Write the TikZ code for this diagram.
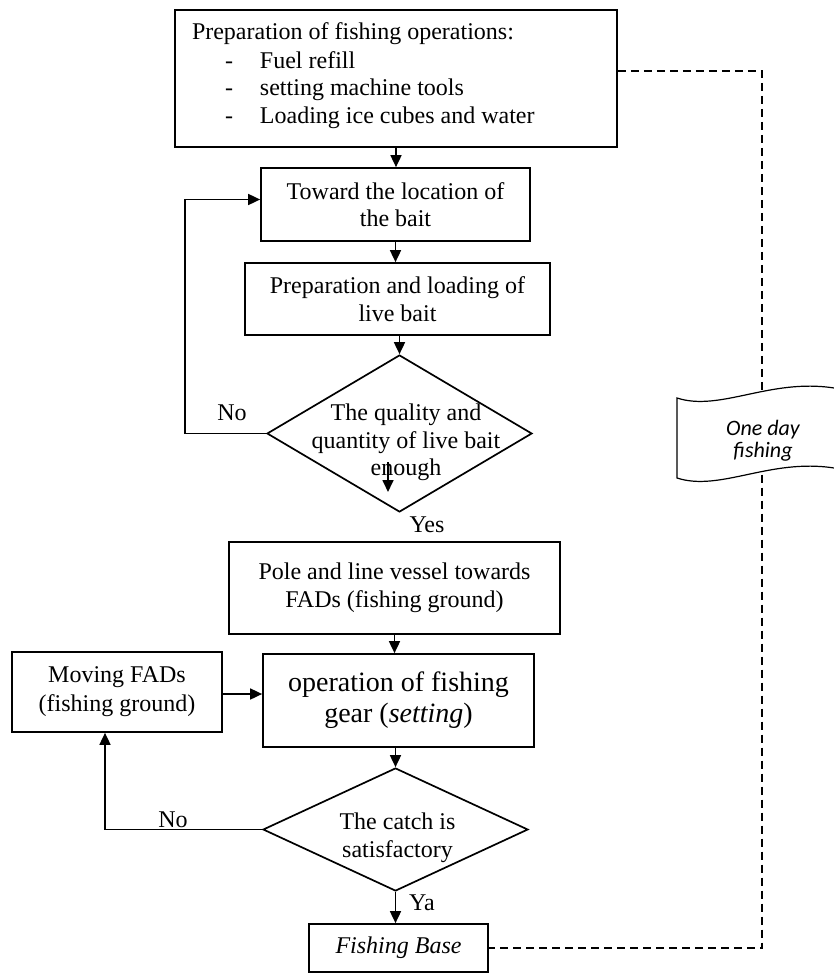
\documentclass[tikz,border=0pt]{standalone}
\usepackage{fontspec}
\setmainfont{Liberation Serif}
\newfontfamily\bannerfont{Carlito}
\usetikzlibrary{arrows.meta,calc,positioning,shapes.geometric}

\newcommand{\prepitem}[1]{\makebox[34pt][l]{\hspace*{16.5pt}-}#1}

\begin{document}
\begin{tikzpicture}[x=0.5pt, y=-0.5pt, >={Triangle[length=6pt, width=5.5pt]}, line width=0.85pt,
    font=\fontsize{12}{13.8}\selectfont]

\tikzset{
    blok/.style={draw, rectangle, align=center, inner sep=0pt},
    tanya/.style={draw, diamond, inner sep=0pt},
    putus/.style={line width=0.75pt, dash pattern=on 4pt off 2.5pt}
}

\useasboundingbox (0,0) rectangle (834,974);
\fill[white] (0,0) rectangle (834,974);

% KOTAK ALUR UTAMA
\node[blok, inner xsep=8.5pt, inner ysep=5.2pt] (prep) at (396,78.5)
    {\parbox[c][58.1pt][t]{204pt}{\fontsize{12}{14}\selectfont\raggedright\strut Preparation of fishing operations:\\
     \prepitem{Fuel refill}\\
     \prepitem{setting machine tools}\\
     \prepitem{Loading ice cubes and water}}};
\node[blok, minimum width=134.5pt, minimum height=36.5pt] (toward) at (395.5,204.5)
    {Toward the location of\\the bait};
\node[blok, minimum width=152.5pt, minimum height=36pt] (loadbait) at (397.5,299)
    {Preparation and loading of\\live bait};
\node[tanya, minimum width=132.5pt, minimum height=78.5pt,
    label={[align=center, xshift=3.25pt, yshift=-4.5pt]center:The quality and\\quantity of live bait\\enough}]
    (quality) at (399.5,433.5) {};
\node[blok, minimum width=165.5pt, minimum height=46pt] (vessel) at (394.5,588)
    {Pole and line vessel towards\\FADs (fishing ground)};
\node[blok, minimum width=135.5pt, minimum height=46.5pt, font=\fontsize{14}{15.5}\selectfont] (operation) at (398.5,700.5)
    {operation of fishing\\gear (\textit{setting})};
\node[blok, minimum width=105pt, minimum height=40pt, font=\fontsize{12}{14.5}\selectfont] (moving) at (117,692)
    {Moving FADs\\(fishing ground)};
\node[tanya, minimum width=132.5pt, minimum height=61.5pt,
    label={[align=center, xshift=1pt, yshift=-4pt]center:The catch is\\satisfactory}]
    (catch) at (395.5,829.5) {};
\node[blok, minimum width=89.5pt, minimum height=24pt, font=\fontsize{12}{13.8}\itshape] (base) at (398.5,948)
    {Fishing Base};

% Label
\node (no1) at (232,413) {No};
\node (yes) at (427,525) {Yes};
\node (no2) at (173,820) {No};
\node (ya) at (422,903) {Ya};

% Panah
\draw[->] (prep.south) -- (prep.south |- toward.north);
\draw[->] (toward.south) -- (toward.south |- loadbait.north);
\draw[->] (loadbait.south -| quality.north) -- (quality.north);
\draw[->] (vessel.south) -- (vessel.south |- operation.north);
\draw[->] (moving.east |- 0,694) -- (operation.west |- 0,694);
\draw[->] (operation.south -| catch.north) -- (catch.north);
\draw[->] (catch.south) -- (catch.south |- base.north);

% panah di dalam belah ketupat
\coordinate (yesA) at (388,462);
\coordinate (yesB) at (388,492);
\draw[->] (yesA) -- (yesB);

% Loop "No"
\coordinate (loopA) at (185,433.5);
\draw[->] (quality.west) -- (loopA) |- ([yshift=2.5pt]toward.west);
\coordinate (loopB) at (105,829.5);
\draw[->] (catch.west) -- (loopB) -- (loopB |- moving.south);

% BENDERA "One day fishing"
\coordinate (bantop) at (762,393.5);
\coordinate (banbot) at (762,474.5);
\draw[fill=white, line width=0.6pt] (834,388) .. controls (770,378) and (720,412) .. (677,398)
    -- (677,478) .. controls (720,492) and (770,458) .. (834,468);
\node[font=\bannerfont\fontsize{11}{11}\selectfont\itshape, align=center] (oneday) at (763,441)
    {One day\\fishing};

% Garis putus-putus
\draw[putus] ([yshift=3.75pt]prep.east) -| (bantop);
\draw[putus] (banbot) |- (base.east);

\end{tikzpicture}
\end{document}
